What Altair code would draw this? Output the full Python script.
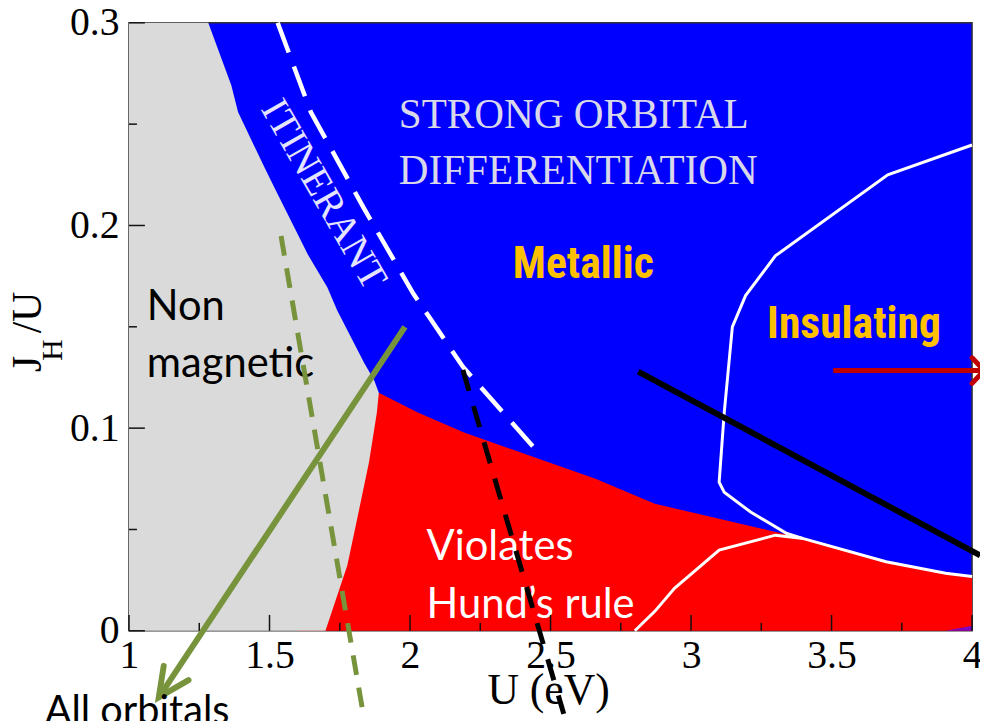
import altair as alt
import pandas as pd

# ---------------- data ----------------
x_tick_labels = [1, 1.5, 2, 2.5, 3, 3.5, 4]
x_minor_ticks = [1.25, 1.75, 2.25, 2.75, 3.25, 3.75]
y_tick_labels = [0, 0.1, 0.2, 0.3]
y_minor_ticks = [0.05, 0.15, 0.25]

# non-magnetic (grey) region boundary, ordered by J_H/U
grey_U = [1.699, 1.777, 1.812, 1.854, 1.882, 1.889, 1.872, 1.837, 1.741, 1.706,
          1.635, 1.600, 1.519, 1.484, 1.388, 1.364, 1.282]
grey_J = [0.0, 0.0323, 0.0553, 0.0832, 0.1077, 0.1175, 0.1238, 0.1322, 0.1581, 0.1694,
          0.186, 0.1958, 0.2183, 0.2281, 0.256, 0.2692, 0.300]

# red region (violates Hund's rule) upper boundary
red_U = [1.60, 1.889, 2.024, 2.19, 2.66, 2.871, 3.294, 3.40, 3.69, 3.90, 4.0]
red_J = [0.1175, 0.1175, 0.108, 0.098, 0.075, 0.0627, 0.049, 0.0455, 0.0341, 0.0284, 0.0268]

# small purple wedge in the bottom-right corner
purple_U = [3.905, 4.0]
purple_J = [0.0, 0.0025]

# white line bounding the insulating region
ins_U = [4.0, 3.70, 3.30, 3.194, 3.147, 3.118, 3.100, 3.118, 3.212, 3.341, 3.40, 3.694, 3.906, 4.0]
ins_J = [0.2397, 0.225, 0.185, 0.1654, 0.150, 0.1075, 0.0733, 0.0684, 0.0586, 0.048,
         0.0455, 0.0341, 0.0284, 0.0268]

# lower white line inside the red region
low_U = [2.80, 2.871, 2.941, 3.100, 3.300, 3.40]
low_J = [0.0, 0.0096, 0.021, 0.0398, 0.0472, 0.0455]

# white dashed "itinerant" line
wdash_U = [1.529, 1.647, 1.835, 2.012, 2.188, 2.441]
wdash_J = [0.300, 0.256, 0.2087, 0.1663, 0.1303, 0.0904]

# green dashed line
gdash_U = [1.541, 1.831]
gdash_J = [0.1948, -0.039]

# green arrow
garrow_U = [1.982, 1.106]
garrow_J = [0.150, -0.0328]
ghead_U = [1.1235, 1.106, 1.2118]
ghead_J = [-0.0173, -0.0328, -0.0243]

# black dashed line
kdash_U = [2.188, 2.547]
kdash_J = [0.1287, -0.041]

# black solid line
ksolid_U = [2.812, 4.029]
ksolid_J = [0.1279, 0.0372]

# red arrow
rarrow_U = [3.506, 4.04]
rarrow_J = [0.1284, 0.1284]
rhead_U = [4.0, 4.043, 4.0]
rhead_J = [0.1347, 0.1284, 0.1221]

# annotation texts
serif_labels = ["STRONG ORBITAL", "DIFFERENTIATION"]
serif_U = [1.960, 1.960]
serif_J = [0.2481, 0.2207]

orange_labels = ["Metallic", "Insulating"]
orange_U = [2.6165, 3.580]
orange_J = [0.1742, 0.1444]

black_labels = ["Non", "magnetic"]
black_U = [1.0635, 1.0635]
black_J = [0.1532, 0.1253]

white_labels = ["Violates", "Hund\u2019s rule"]
white_U = [2.0588, 2.0588]
white_J = [0.0347, 0.0064]

itin_label = ["ITINERANT"]
itin_U = [1.692]
itin_J = [0.2153]

# ---------------- chart ----------------
W, H = 850, 613
SERIF = "Liberation Serif"
SANS = "Lato"
NARROW = "Roboto Condensed, Roboto, sans-serif"

xs = alt.Scale(domain=[1, 4], nice=False, zero=False)
ys = alt.Scale(domain=[0, 0.3], nice=False, zero=False)

x_axis = alt.Axis(values=x_tick_labels, format="~g", title=None, grid=False, domain=False,
                  ticks=False, tickSize=0, labelFont=SERIF, labelFontSize=40,
                  labelColor="black", labelBaseline="alphabetic", labelPadding=37,
                  labelFlush=False, labelOverlap=False)
y_axis = alt.Axis(values=y_tick_labels, format="~g", title=None, grid=False, domain=False,
                  ticks=False, tickSize=0, labelFont=SERIF, labelFontSize=40,
                  labelColor="black", labelBaseline="middle", labelPadding=10,
                  labelFlush=False, labelOverlap=False)


def X(field="U"):
    return alt.X(f"{field}:Q", scale=xs, axis=x_axis)


def Y(field="J"):
    return alt.Y(f"{field}:Q", scale=ys, axis=y_axis)


def df_line(us, js):
    return pd.DataFrame({"U": us, "J": js, "i": list(range(len(us)))})


def line(us, js, color, width, dash=None, cap="butt"):
    kw = dict(color=color, strokeWidth=width, strokeCap=cap, strokeJoin="miter")
    if dash:
        kw["strokeDash"] = dash
    return alt.Chart(df_line(us, js)).mark_line(**kw).encode(
        x=X(), y=Y(), order=alt.Order("i:Q"))


red_area = alt.Chart(df_line(red_U, red_J)).mark_area(color="#ff0000").encode(x=X(), y=Y())
purple_area = alt.Chart(df_line(purple_U, purple_J)).mark_area(color="#8000c0").encode(x=X(), y=Y())

grey_df = df_line(grey_U, grey_J)
grey_df["U0"] = x_tick_labels[0]
grey_area = alt.Chart(grey_df).mark_area(
    color="#dadada", orient="horizontal").encode(y=Y(), x=X(), x2="U0:Q")

ins_line = line(ins_U, ins_J, "white", 3)
low_line = line(low_U, low_J, "white", 3)
wdash = line(wdash_U, wdash_J, "white", 4.5, dash=[32, 15])
gdash = line(gdash_U, gdash_J, "#77933c", 5, dash=[20, 13])
kdash = line(kdash_U, kdash_J, "black", 5, dash=[22, 16])
garrow = line(garrow_U, garrow_J, "#77933c", 6)
ghead = line(ghead_U, ghead_J, "#77933c", 6, cap="round")
ksolid = line(ksolid_U, ksolid_J, "black", 6)
rarrow = line(rarrow_U, rarrow_J, "#c00000", 5)
rhead = line(rhead_U, rhead_J, "#c00000", 5, cap="round")


def texts(labels, us, js, **kw):
    d = pd.DataFrame({"label": labels, "U": us, "J": js})
    return alt.Chart(d).mark_text(**kw).encode(x=X(), y=Y(), text="label:N")


t_serif = texts(serif_labels, serif_U, serif_J, font=SERIF, fontSize=41.5, color="#d8d8ea",
                align="left", baseline="alphabetic")
t_itin = texts(itin_label, itin_U, itin_J, font=SERIF, fontSize=40, color="#e4e4ff",
               align="center", baseline="middle", angle=60)
t_orange = texts(orange_labels, orange_U, orange_J, font=NARROW, fontSize=44,
                 fontWeight="bold", color="#ffc000", align="center", baseline="alphabetic")
t_black = texts(black_labels, black_U, black_J, font=SANS, fontSize=42, color="black",
                align="left", baseline="alphabetic")
t_white = texts(white_labels, white_U, white_J, font=SANS, fontSize=42, color="white",
                align="left", baseline="alphabetic")


def px_text(label, x, y, **kw):
    d = pd.DataFrame({"t": [label]})
    return alt.Chart(d).mark_text(**kw).encode(x=alt.value(x), y=alt.value(y), text="t:N")


t_all = px_text("All orbitals", -85, 707, font=SANS, fontSize=40, color="black",
                align="left", baseline="alphabetic")
t_xtitle = px_text("U (eV)", 423, 687, font=SERIF, fontSize=44, color="black",
                   align="center", baseline="alphabetic")
t_yJ = px_text("J", -89, 344, font=SERIF, fontSize=42, color="black", align="center",
               baseline="alphabetic", angle=270)
t_yH = px_text("H", -68, 330, font=SERIF, fontSize=30, color="black", align="center",
               baseline="alphabetic", angle=270)
t_yU = px_text("/U", -89, 292, font=SERIF, fontSize=42, color="black", align="center",
               baseline="alphabetic", angle=270)

# inward tick marks
xt_major = alt.Chart(pd.DataFrame({"U": x_tick_labels})).mark_rule(
    color="#111", strokeWidth=1.5).encode(x=X(), y=alt.value(H), y2=alt.value(H - 16))
xt_minor = alt.Chart(pd.DataFrame({"U": x_minor_ticks})).mark_rule(
    color="#111", strokeWidth=1.5).encode(x=X(), y=alt.value(H), y2=alt.value(H - 8))
yt_major = alt.Chart(pd.DataFrame({"J": y_tick_labels})).mark_rule(
    color="#111", strokeWidth=1.5).encode(y=Y(), x=alt.value(0), x2=alt.value(16))
yt_minor = alt.Chart(pd.DataFrame({"J": y_minor_ticks})).mark_rule(
    color="#111", strokeWidth=1.5).encode(y=Y(), x=alt.value(0), x2=alt.value(8))

chart = alt.layer(
    red_area, purple_area, grey_area,
    ins_line, low_line,
    t_serif, t_itin, t_orange, t_black, t_white,
    wdash, gdash, kdash,
    garrow, ghead, ksolid, rarrow, rhead,
    xt_major, xt_minor, yt_major, yt_minor,
    t_all, t_xtitle, t_yJ, t_yH, t_yU,
).properties(
    width=W, height=H,
    autosize=alt.AutoSizeParams(type="none"),
    padding={"left": 122, "top": 12, "right": 8, "bottom": 88},
    background="white",
).configure_view(
    fill="#0000ff", stroke="#333333", strokeWidth=1.5
)

chart.save("out.html", embed_options={"renderer": "svg", "actions": False})
